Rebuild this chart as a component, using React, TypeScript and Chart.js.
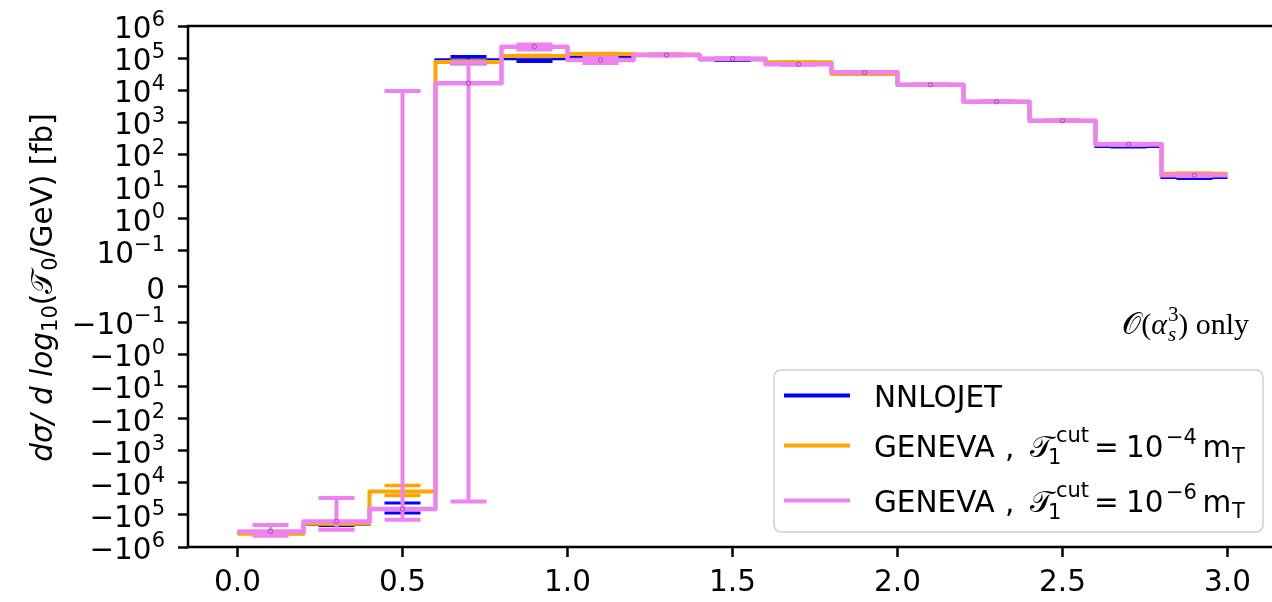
import React, { useEffect, useRef } from "react";
import { Chart, registerables } from "chart.js";

Chart.register(...registerables);

// ---------------- data ----------------
const binEdges = [0.0, 0.2, 0.4, 0.6, 0.8, 1.0, 1.2, 1.4, 1.6, 1.8, 2.0, 2.2, 2.4, 2.6, 2.8, 3.0];
const binCenters = [0.1, 0.3, 0.5, 0.7, 0.9, 1.1, 1.3, 1.5, 1.7, 1.9, 2.1, 2.3, 2.5, 2.7, 2.9];

const nnlojetValues = [-3.6e5, -2.0e5, -6.5e4, 9.0e4, 9.4e4, 1.06e5, 1.25e5, 8.8e4, 6.5e4, 3.6e4, 1.48e4, 4.4e3, 1.13e3, 175, 19];
const nnlojetErrors = [1.5e4, 1.5e4, 2.2e4, 2.3e4, 1.5e4, 6e3, 3e3, 2e3, 1.2e3, 6e2, 2e2, 60, 15, 5, 1];

const geneva4Values = [-3.9e5, -1.85e5, -1.86e4, 7.6e4, 1.16e5, 1.34e5, 1.3e5, 9.6e4, 7.4e4, 3.2e4, 1.48e4, 4.4e3, 1.13e3, 205, 25];
const geneva4Errors = [1e4, 8e3, 6.5e3, 5e3, 4e3, 4e3, 2e3, 1.5e3, 1e3, 5e2, 2e2, 60, 15, 4, 1];

const geneva6Values = [-3.27e5, -1.6e5, -6.56e4, 1.64e4, 2.27e5, 8.7e4, 1.25e5, 9.6e4, 6.4e4, 3.6e4, 1.48e4, 4.4e3, 1.13e3, 208, 22.5];
const geneva6Errors = [1.2e5, 1.3e5, 7.5e4, 5.5e4, 4e4, 1.7e4, 4e3, 2.5e3, 1.5e3, 8e2, 3e2, 1e2, 25, 6, 1.2];

const seriesLabels = ["NNLOJET", "GENEVA, 𝒯1^cut = 10^−4 mT", "GENEVA, 𝒯1^cut = 10^−6 mT"];
const tauCutExponents = ["", "−4", "−6"];

const xTickValues = [0.0, 0.5, 1.0, 1.5, 2.0, 2.5, 3.0];
const xTickLabels = ["0.0", "0.5", "1.0", "1.5", "2.0", "2.5", "3.0"];

const yTickValues = [-1e6, -1e5, -1e4, -1e3, -1e2, -1e1, -1, -0.1, 0, 0.1, 1, 1e1, 1e2, 1e3, 1e4, 1e5, 1e6];
const yTickLabels = ["−10^6", "−10^5", "−10^4", "−10^3", "−10^2", "−10^1", "−10^0", "−10^−1", "0", "10^−1", "10^0", "10^1", "10^2", "10^3", "10^4", "10^5", "10^6"];

// --------------- symlog transform (linthresh 0.1, linscale 1) ---------------
const LINTHRESH = 0.1;
const LINSCALE_ADJ = 1 / (1 - 1 / 10);
function symlog(v: number): number {
  const a = Math.abs(v);
  if (a <= LINTHRESH) return (v / LINTHRESH) * LINSCALE_ADJ;
  return Math.sign(v) * (LINSCALE_ADJ + Math.log10(a / LINTHRESH));
}

const COLORS = { blue: "#0000ff", orange: "#ffa500", violet: "#ee82ee" };

// --------------- rich text helpers ---------------
type Seg = { t: string; f: string; dy?: number; dx?: number; noAdv?: boolean; x?: number };
function segWidth(ctx: CanvasRenderingContext2D, segs: Seg[]) {
  let w = 0;
  for (const s of segs) {
    ctx.font = s.f;
    const m = ctx.measureText(s.t).width;
    w += (s.dx || 0) + (s.noAdv ? 0 : m);
  }
  return w;
}
function drawSegs(ctx: CanvasRenderingContext2D, segs: Seg[], x: number, y: number) {
  let cx = x;
  for (const s of segs) {
    ctx.font = s.f;
    if (s.x !== undefined) cx = s.x;
    cx += s.dx || 0;
    ctx.fillText(s.t, cx, y + (s.dy || 0));
    if (!s.noAdv) cx += ctx.measureText(s.t).width;
  }
}

const FS = 29.5;
const BASE = `${FS}px "DejaVu Sans"`;
const SMALL = `21px "DejaVu Sans"`;
const ITAL = `italic ${FS}px "DejaVu Sans"`;
const SERIF = `30px "Liberation Serif", "DejaVu Serif", serif`;
const SERIF_I = `italic 30px "Liberation Serif", "DejaVu Serif", serif`;
const SERIF_S = `21px "Liberation Serif", "DejaVu Serif", serif`;
const SERIF_SI = `italic 21px "Liberation Serif", "DejaVu Serif", serif`;

function parseTick(label: string): Seg[] {
  const parts = label.split("^");
  if (parts.length === 1) return [{ t: parts[0], f: BASE }];
  return [
    { t: parts[0], f: BASE },
    { t: parts[1], f: SMALL, dy: -12.3 },
  ];
}

const errorBarPlugin = {
  id: "errorBars",
  afterDatasetDraw(chart: any, args: any) {
    const ds = chart.data.datasets[args.index];
    if (!ds.errBars) return;
    const { ctx, chartArea, scales } = chart;
    const xs = scales.x, ys = scales.y;
    ctx.save();
    ctx.beginPath();
    ctx.rect(chartArea.left, chartArea.top, chartArea.right - chartArea.left, chartArea.bottom - chartArea.top);
    ctx.clip();
    ctx.strokeStyle = ds.borderColor;
    ctx.lineWidth = ds.errWidth;
    ctx.lineCap = "butt";
    const { centers, values, errors } = ds.errBars;
    for (let i = 0; i < centers.length; i++) {
      const px = xs.getPixelForValue(centers[i]);
      const lo = ys.getPixelForValue(symlog(values[i] - errors[i]));
      const hi = ys.getPixelForValue(symlog(values[i] + errors[i]));
      ctx.beginPath();
      ctx.moveTo(px, lo);
      ctx.lineTo(px, hi);
      ctx.moveTo(px - 18, lo);
      ctx.lineTo(px + 18, lo);
      ctx.moveTo(px - 18, hi);
      ctx.lineTo(px + 18, hi);
      ctx.stroke();
    }
    ctx.restore();
  },
};

const decorPlugin = {
  id: "decor",
  afterDraw(chart: any) {
    const { ctx, chartArea, scales } = chart;
    const ys = scales.y;
    ctx.save();
    // frame
    ctx.strokeStyle = "#000";
    ctx.lineWidth = 2.5;
    ctx.strokeRect(chartArea.left, chartArea.top, chartArea.right - chartArea.left, chartArea.bottom - chartArea.top);

    ctx.fillStyle = "#000";
    ctx.textBaseline = "alphabetic";
    ctx.textAlign = "left";

    // y tick labels
    for (let i = 0; i < yTickValues.length; i++) {
      const py = ys.getPixelForValue(symlog(yTickValues[i]));
      const segs = parseTick(yTickLabels[i]);
      const w = segWidth(ctx, segs);
      drawSegs(ctx, segs, 165 - w, py + 12);
    }

    // y axis title (rotated)
    const tSegs: Seg[] = [
      { t: "dσ/ d log", f: ITAL },
      { t: "10", f: SMALL, dy: 5.5 },
      { t: "(", f: BASE },
      { t: "𝒯", f: BASE },
      { t: "0", f: SMALL, dy: 5.5 },
      { t: "/GeV) [fb]", f: BASE },
    ];
    const tw = segWidth(ctx, tSegs);
    ctx.save();
    ctx.translate(51.5, 287.5);
    ctx.rotate(-Math.PI / 2);
    drawSegs(ctx, tSegs, -tw / 2, 0);
    ctx.restore();

    // annotation
    const aSegs: Seg[] = [
      { t: "𝒪", f: SERIF },
      { t: "(", f: SERIF },
      { t: "α", f: SERIF_I },
      { t: "3", f: SERIF_S, dy: -12.5, noAdv: true, dx: 1 },
      { t: "s", f: SERIF_SI, dy: 7 },
      { t: ")", f: SERIF, dx: 2 },
      { t: " only", f: SERIF },
    ];
    const aw = segWidth(ctx, aSegs);
    drawSegs(ctx, aSegs, 1249 - aw, 333.5);

    // legend
    const bx = 774, by = 370, bw = 489, bh = 162, r = 7;
    ctx.beginPath();
    ctx.moveTo(bx + r, by);
    ctx.arcTo(bx + bw, by, bx + bw, by + bh, r);
    ctx.arcTo(bx + bw, by + bh, bx, by + bh, r);
    ctx.arcTo(bx, by + bh, bx, by, r);
    ctx.arcTo(bx, by, bx + bw, by, r);
    ctx.closePath();
    ctx.fillStyle = "rgba(255,255,255,0.8)";
    ctx.fill();
    ctx.strokeStyle = "#d0d0d0";
    ctx.lineWidth = 1.5;
    ctx.stroke();

    const dsets = chart.data.datasets.filter((d: any) => d.legendIndex !== undefined);
    dsets.sort((a: any, b: any) => a.legendIndex - b.legendIndex);
    const baselines = [406.5, 456.5, 511.5];
    dsets.forEach((d: any, k: number) => {
      const bl = baselines[k];
      ctx.strokeStyle = d.borderColor;
      ctx.lineWidth = 4;
      ctx.beginPath();
      ctx.moveTo(784, bl - 11);
      ctx.lineTo(850, bl - 11);
      ctx.stroke();
      ctx.fillStyle = "#000";
      if (k === 0) {
        drawSegs(ctx, [{ t: seriesLabels[0], f: BASE }], 874, bl);
      } else {
        const segs: Seg[] = [
          { t: "GENEVA", f: BASE, x: 874 },
          { t: ",", f: BASE, x: 1005 },
          { t: "𝒯", f: BASE, x: 1030 },
          { t: "1", f: SMALL, dy: 7.5, x: 1048 },
          { t: "cut", f: SMALL, dy: -15, x: 1056 },
          { t: "=", f: BASE, x: 1094 },
          { t: "10", f: BASE, x: 1126 },
          { t: tauCutExponents[k], f: SMALL, dy: -12.3, x: 1166 },
          { t: "m", f: BASE, x: 1202.5 },
          { t: "T", f: SMALL, dy: 6, x: 1232 },
        ];
        drawSegs(ctx, segs, 874, bl);
      }
    });
    ctx.restore();
  },
};

function stepData(values: number[]) {
  return binEdges.map((x, i) => ({ x, y: symlog(values[Math.min(i, values.length - 1)]) }));
}

export default function App() {
  const ref = useRef<HTMLCanvasElement | null>(null);
  useEffect(() => {
    if (!ref.current) return;
    const chart = new Chart(ref.current, {
      type: "line",
      data: {
        datasets: [
          {
            type: "scatter",
            label: "markers",
            data: binCenters.map((x, i) => ({ x, y: symlog(geneva6Values[i]) })),
            pointRadius: 2.2,
            pointBorderWidth: 1,
            pointBorderColor: "rgba(150,80,160,0.9)",
            pointBackgroundColor: "rgba(0,0,0,0)",
            showLine: false,
            order: 0,
          } as any,
          {
            label: seriesLabels[2],
            data: stepData(geneva6Values),
            borderColor: COLORS.violet,
            borderWidth: 4.5,
            stepped: true,
            pointRadius: 0,
            fill: false,
            borderJoinStyle: "round",
            order: 1,
            errBars: { centers: binCenters, values: geneva6Values, errors: geneva6Errors },
            errWidth: 4,
            legendIndex: 2,
          } as any,
          {
            label: seriesLabels[1],
            data: stepData(geneva4Values),
            borderColor: COLORS.orange,
            borderWidth: 4,
            stepped: true,
            pointRadius: 0,
            fill: false,
            borderJoinStyle: "round",
            order: 2,
            errBars: { centers: binCenters, values: geneva4Values, errors: geneva4Errors },
            errWidth: 3.5,
            legendIndex: 1,
          } as any,
          {
            label: seriesLabels[0],
            data: stepData(nnlojetValues),
            borderColor: COLORS.blue,
            borderWidth: 2.5,
            stepped: true,
            pointRadius: 0,
            fill: false,
            borderJoinStyle: "round",
            order: 3,
            errBars: { centers: binCenters, values: nnlojetValues, errors: nnlojetErrors },
            errWidth: 3,
            legendIndex: 0,
          } as any,
        ],
      },
      options: {
        responsive: false,
        animation: false,
        devicePixelRatio: 1,
        layout: { padding: { top: 26, right: 13, left: 0, bottom: 0 } },
        plugins: { legend: { display: false }, tooltip: { enabled: false } },
        events: [],
        scales: {
          x: {
            type: "linear",
            min: -0.15,
            max: 3.15,
            afterBuildTicks: (s: any) => {
              s.ticks = xTickValues.map((v) => ({ value: v }));
            },
            afterFit: (s: any) => {
              s.height = 55;
            },
            ticks: {
              autoSkip: false,
              maxRotation: 0,
              minRotation: 0,
              padding: 9,
              color: "#000",
              font: { family: "DejaVu Sans", size: FS },
              callback: (v: any) => {
                const idx = xTickValues.findIndex((t) => Math.abs(t - Number(v)) < 1e-9);
                return idx >= 0 ? xTickLabels[idx] : "";
              },
            },
            grid: { display: true, drawOnChartArea: false, drawTicks: true, tickLength: 10, tickWidth: 2.5, tickColor: "#000" },
            border: { display: false },
          },
          y: {
            type: "linear",
            min: symlog(-1e6),
            max: symlog(1e6),
            afterBuildTicks: (s: any) => {
              s.ticks = yTickValues.map((v) => ({ value: symlog(v) }));
            },
            afterFit: (s: any) => {
              s.width = 188;
            },
            ticks: {
              autoSkip: false,
              padding: 0,
              font: { family: "DejaVu Sans", size: 10 },
              callback: () => "",
            },
            grid: { display: true, drawOnChartArea: false, drawTicks: true, tickLength: 10, tickWidth: 2.5, tickColor: "#000" },
            border: { display: false },
          },
        },
      },
      plugins: [errorBarPlugin, decorPlugin],
    });
    return () => chart.destroy();
  }, []);

  return (
    <div style={{ position: "fixed", left: 0, top: 0, width: 1272, height: 602, overflow: "hidden", background: "#fff" }}>
      <canvas ref={ref} width={1290} height={602} style={{ display: "block", width: 1290, height: 602 }} />
    </div>
  );
}
